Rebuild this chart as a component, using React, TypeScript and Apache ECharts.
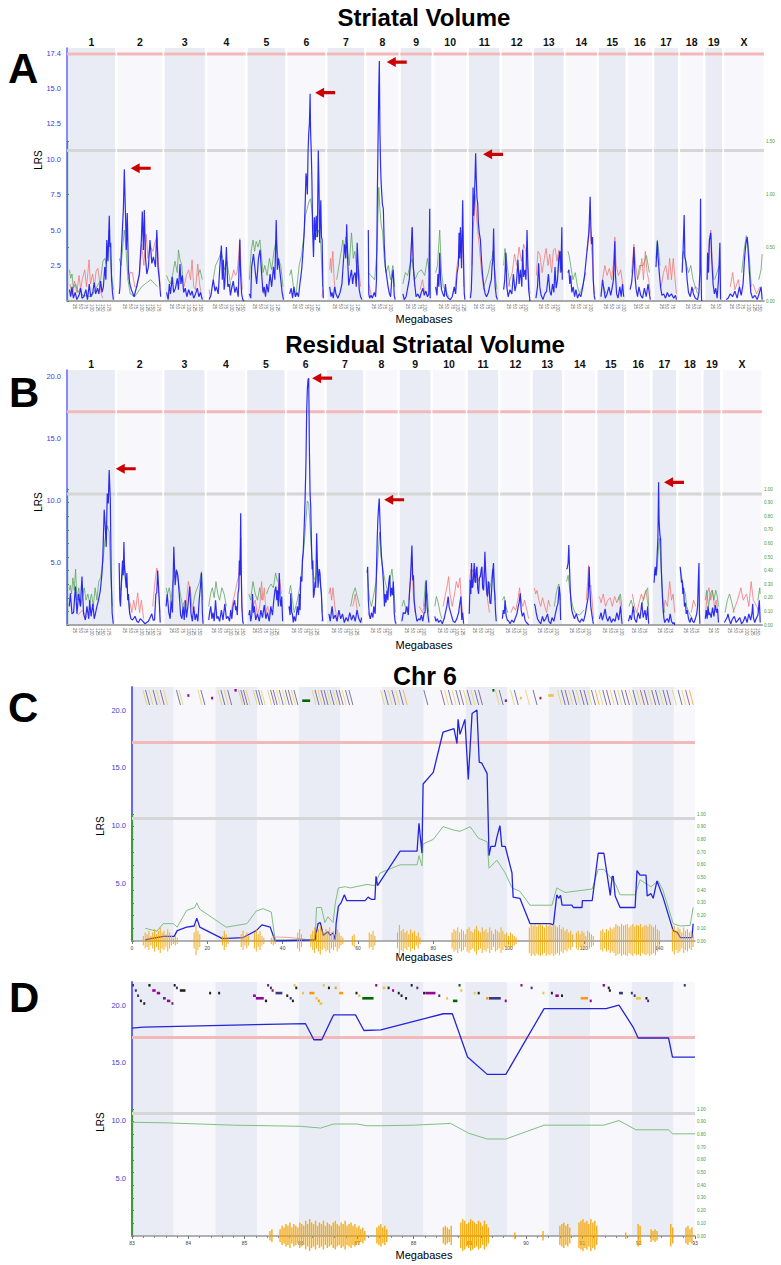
import React, { useEffect, useRef } from "react";
import * as echarts from "echarts";

// ---------------- DATA ----------------
const CHROMOSOMES = ["1","2","3","4","5","6","7","8","9","10","11","12","13","14","15","16","17","18","19","X"];
const CHR_LENGTH_MB = [198,185,166,155,154,153,150,128,124,132,123,119,119,123,106,93,93,88,62,160];
const TICK_STEP_MB = 25;

const A_SUGGESTIVE = 10.6;
const A_SIGNIFICANT = 17.4;
const B_SUGGESTIVE = 10.56;
const B_SIGNIFICANT = 17.2;
const CD_SUGGESTIVE = 10.6;
const CD_SIGNIFICANT = 17.2;

const A_Y_LABELS = [2.5, 5, 7.5, 10, 12.5, 15, 17.4];
const BCD_Y_LABELS = [5, 10, 15, 20];

// Panel A: Striatal Volume, per chromosome [Mb, LRS]
const A_LRS = [
  [[3,0.8],[8,0.3],[14,1.0],[20,0.2],[28,0.6],[35,0.1],[45,0.4],[52,0.9],[58,0.2],[66,0.3],[75,0.8],[82,0.1],[90,1.2],[96,0.3],[105,0.6],[112,1.3],[118,0.5],[126,0.9],[132,0.5],[140,1.4],[146,0.6],[152,1.0],[158,2.4],[163,1.5],[167,4.3],[172,2.8],[178,6.0],[181,3.8],[184,4.1],[188,1.5],[192,0.6],[196,0.1]],
  [[2,0.5],[5,1.0],[8,2.4],[14,4.5],[20,6.5],[24,9.27],[29,6.2],[33,3.6],[37,6.2],[42,2.2],[48,1.2],[55,0.8],[67,0.3],[78,1.0],[90,1.9],[99,4.3],[103,6.3],[108,3.6],[112,6.4],[117,3.1],[123,1.9],[130,2.4],[137,4.3],[145,2.65],[152,3.1],[161,2.4],[167,5.0],[172,2.4],[178,1.5],[184,0.3]],
  [[3,0.6],[10,0.1],[15,1.2],[20,0.5],[28,1.7],[34,0.6],[42,0.9],[50,1.6],[55,0.8],[62,2.6],[66,1.2],[72,1.8],[78,0.6],[85,0.9],[92,0.3],[100,0.8],[108,0.4],[115,0.7],[122,0.2],[130,0.5],[138,0.9],[145,0.3],[152,0.6],[160,0.1]],
  [[2,0.1],[10,0.4],[20,1.5],[28,0.7],[34,1.0],[42,0.5],[49,2.4],[56,3.9],[60,1.5],[64,2.9],[68,0.8],[71,1.2],[78,3.8],[84,1.0],[90,1.2],[96,0.4],[100,0.8],[108,1.4],[115,0.6],[122,1.0],[130,0.3],[137,4.3],[140,2.0],[145,0.5],[150,0.1],[155,0.0]],
  [[2,0.5],[8,0.2],[12,2.4],[20,3.3],[27,2.2],[34,1.2],[42,3.0],[49,3.6],[56,1.9],[62,0.6],[67,1.0],[73,0.3],[78,1.2],[85,0.6],[93,1.9],[100,1.0],[108,2.4],[114,1.5],[120,5.7],[125,2.2],[130,3.0],[134,2.4],[140,1.5],[146,0.6],[152,0.1]],
  [[3,0.5],[10,0.9],[16,0.2],[22,1.0],[28,0.3],[35,0.6],[42,0.3],[48,1.2],[53,1.8],[57,2.4],[62,3.5],[67,4.8],[72,7.2],[75,9.0],[78,8.6],[81,7.5],[84,10.5],[87,11.8],[90,12.5],[93,14.6],[95,12.0],[98,10.6],[101,8.5],[104,5.0],[108,3.1],[112,5.9],[116,4.3],[120,6.0],[125,4.5],[129,10.6],[132,8.3],[135,4.1],[140,7.1],[143,4.5],[146,4.3],[149,1.2],[151,0.2]],
  [[4,1.0],[10,0.3],[14,0.6],[20,0.2],[26,1.0],[32,0.5],[40,0.2],[50,0.6],[58,1.2],[64,2.7],[70,4.0],[75,3.0],[79,5.4],[83,2.9],[88,1.1],[93,1.6],[100,2.2],[105,1.2],[110,1.8],[116,2.0],[121,1.0],[125,4.1],[130,2.2],[134,0.8],[140,0.3],[146,0.1]],
  [[2,5.0],[4,0.5],[8,0.2],[14,0.4],[20,0.2],[28,0.6],[34,0.3],[38,1.5],[42,7.8],[45,11.5],[48,15.0],[50.5,16.9],[53,12.0],[56,9.5],[58,8.5],[61,7.6],[64,6.8],[68,6.5],[72,4.0],[77,2.4],[83,1.7],[89,1.0],[95,0.5],[100,0.3],[105,1.5],[111,2.2],[116,0.4],[120,0.1]],
  [[4,0.5],[10,0.1],[18,0.3],[25,0.9],[32,1.5],[39,3.1],[45,5.2],[50,2.4],[56,1.2],[62,0.3],[70,0.5],[78,0.2],[85,0.6],[92,0.9],[98,0.4],[105,0.7],[112,0.3],[118,0.5],[122,6.5],[124,0.2]],
  [[2,1.0],[8,0.4],[12,1.9],[16,1.0],[20,3.4],[24,1.5],[28,0.8],[34,0.5],[40,0.3],[45,1.2],[50,0.4],[58,0.2],[66,0.1],[75,0.3],[84,1.0],[90,0.5],[96,1.9],[102,2.5],[105,4.8],[108,3.0],[111,5.2],[116,2.3],[121,7.1],[124,3.6],[128,0.5],[131,0.1]],
  [[1,0.2],[5,0.8],[8,2.4],[10,4.5],[12.5,8.0],[15,6.0],[18,6.9],[21,8.5],[24,10.4],[27,8.5],[30,7.2],[33,6.9],[36,5.5],[40,4.8],[45,4.3],[50,2.8],[54,1.9],[60,1.0],[66,0.5],[72,0.3],[80,0.6],[88,1.2],[93,1.5],[96,2.4],[100,3.0],[103,5.1],[106,2.5],[110,1.0],[115,0.3],[120,0.1]],
  [[2,0.8],[7,1.5],[12,3.4],[16,1.0],[22,0.3],[30,0.8],[38,0.5],[45,1.9],[52,0.7],[58,1.2],[65,2.9],[70,1.2],[76,2.2],[82,1.0],[86,3.6],[90,1.7],[96,2.2],[100,1.5],[105,5.0],[108,2.9],[112,0.8],[118,0.0]],
  [[3,0.2],[10,1.0],[15,2.65],[20,1.0],[26,0.4],[34,0.1],[42,0.5],[50,0.7],[58,1.9],[64,0.7],[70,0.4],[76,1.2],[82,0.6],[87,2.4],[92,0.9],[98,1.5],[103,2.9],[108,3.5],[113,2.0],[117,5.2],[119,1.5]],
  [[3,2.0],[7,2.2],[11,1.2],[15,1.8],[20,0.6],[26,1.0],[32,0.3],[38,0.8],[45,0.2],[52,0.5],[60,0.3],[68,1.0],[76,1.8],[84,3.1],[90,4.0],[95,4.8],[100.5,7.35],[103,5.5],[107,4.0],[111,4.5],[114,1.5],[119,0.3],[122,0.1]],
  [[3,0.3],[10,1.5],[16,0.8],[22,0.2],[30,0.5],[38,1.0],[46,0.4],[52,0.9],[58,1.5],[64,4.2],[67,1.8],[72,0.5],[78,0.2],[86,1.0],[92,0.3],[98,1.2],[103,0.3]],
  [[3,0.8],[10,1.3],[16,2.4],[20,3.8],[24,1.9],[30,0.8],[36,0.3],[42,1.0],[50,0.4],[58,0.2],[66,0.9],[74,0.3],[82,1.2],[88,0.5],[92,0.1]],
  [[2,2.4],[5,3.3],[8,4.2],[11,3.1],[14,2.5],[18,1.7],[22,1.0],[28,0.4],[36,0.5],[44,0.2],[52,0.6],[60,0.3],[70,0.5],[80,0.2],[88,0.4],[92,0.1]],
  [[2,2.0],[6,3.5],[11,6.05],[14,3.1],[18,2.8],[24,1.5],[30,0.6],[38,0.3],[45,1.0],[52,0.5],[60,0.2],[70,0.1],[76,0.6],[80,2.0],[83,7.2],[85,2.5],[87,0.3],[88,0.0]],
  [[2,1.5],[4,3.4],[8,2.0],[12,4.3],[18,4.8],[22,3.0],[28,1.2],[34,0.5],[40,0.9],[46,0.2],[52,1.5],[58,4.1],[61,0.1]],
  [[2,0.1],[10,0.2],[20,0.5],[30,0.3],[40,0.7],[50,0.2],[60,1.0],[68,0.4],[76,1.2],[82,2.9],[88,4.0],[94,4.5],[98,3.6],[104,2.0],[110,0.6],[118,0.2],[128,0.4],[138,0.1],[148,0.6],[155,1.0],[160,0.1]],
];
const A_RED = [
  [[5,1.2],[15,0.4],[25,1.4],[35,0.6],[45,1.8],[52,0.8],[60,1.6],[70,2.2],[78,1.0],[89,2.9],[95,1.2],[105,1.9],[112,1.0],[120,2.1],[128,2.3],[135,1.4],[142,0.5],[150,0.2]],
  [[40,1.5],[50,2.0],[60,2.0],[70,1.0],[80,1.0],[92,2.0],[100,4.0],[110,2.5],[120,4.7],[128,3.0],[138,3.8],[150,3.5],[160,4.2],[168,4.5],[175,2.5],[182,1.0]],
  [[80,1.0],[90,1.8],[100,2.2],[108,1.5],[115,2.9],[122,1.0],[130,0.8],[140,2.6],[148,1.2],[155,0.5]],
  [[2,0.8],[8,0.2],[12,null],[100,1.5],[110,2.2],[118,1.8],[125,2.0],[132,3.2],[137,4.4],[142,2.5],[148,0.8]],
  [[58,1.0],[65,0.5],[72,0.8]],
  [[145,0.3],[150,0.8]],
  [[4,2.2],[8,3.0],[12,2.0],[18,3.5],[24,1.5],[30,0.5],[35,null],[120,1.2],[130,2.5],[140,1.0]],
  [[4,1.2],[10,0.8],[16,0.3]],
  [[38,3.0],[45,5.2],[50,2.5],[56,1.0],[62,null],[80,0.8],[90,1.5],[100,0.6]],
  [[80,0.5],[88,1.0],[96,2.5],[102,3.0],[108,4.0],[114,3.5],[120,5.0],[126,1.0]],
  [[8,2.5],[12,5.0],[18,6.0],[22,7.5],[26,6.5],[30,5.5],[36,4.5],[42,3.5],[50,2.0],[60,0.8]],
  [[20,1.0],[30,1.5],[40,2.0],[50,3.3],[60,2.5],[70,3.8],[80,2.8],[90,4.0],[100,3.5],[110,2.0],[118,0.5]],
  [[5,1.8],[12,3.5],[20,3.3],[30,2.0],[40,3.0],[48,3.7],[56,2.5],[64,3.3],[72,2.0],[80,3.6],[88,3.7],[96,2.8],[104,3.6],[110,2.0]],
  [[86,3.5],[92,4.5],[98,5.5],[102,4.5],[110,3.0],[118,0.5]],
  [[10,1.5],[20,2.5],[30,1.8],[40,2.3],[50,1.5],[60,3.0],[64,4.5],[70,2.5],[80,1.8],[90,2.2],[100,1.0]],
  [[10,2.0],[20,4.0],[28,2.5],[36,1.5],[45,2.0],[55,3.0],[62,1.5],[70,3.5],[78,2.0],[85,1.5],[92,0.5]],
  [[25,1.0],[35,2.0],[45,2.5],[55,1.5],[62,3.0],[70,1.5],[78,3.0],[86,1.5],[92,0.5]],
  [[40,0.5],[60,1.0],[75,0.8]],
  [[4,3.0],[10,4.0],[18,5.0],[24,3.0],[30,1.5]],
  [[20,1.0],[30,2.0],[40,0.8],[55,1.5],[65,0.5],[70,null],[120,1.2],[135,0.5],[150,1.0]],
];
const A_GREEN = [
  [[3,2.2],[8,1.6],[14,1.9],[20,0.9],[30,1.2],[40,0.6],[50,0.9],[60,0.4],[100,0.3],[140,1.5],[150,2.8],[158,3.0],[165,2.6],[172,3.5],[178,5.0],[182,3.2],[188,1.8],[196,0.8]],
  [[2,3.0],[10,2.5],[24,5.0],[30,4.0],[40,1.5],[50,0.5],[70,0.3],[100,1.0],[140,1.5],[170,1.0]],
  [[3,1.8],[10,1.5],[20,1.2],[30,1.9],[40,2.8],[50,2.0],[55,3.6],[62,2.9],[70,2.5],[75,1.3],[80,null],[140,1.8],[150,2.2],[160,1.5]],
  [[20,1.5],[30,2.5],[45,3.0],[55,3.5],[62,3.0],[70,2.2],[80,2.8],[90,1.8],[100,0.8]],
  [[2,1.5],[10,3.5],[18,4.3],[25,3.5],[32,4.2],[40,3.8],[48,4.3],[56,3.0],[62,2.0],[70,2.5],[80,1.8],[90,3.0],[100,2.2],[110,3.5],[120,4.3],[128,3.0],[140,2.5],[150,1.0]],
  [[3,1.8],[10,2.2],[20,1.0],[30,0.3],[45,2.5],[55,3.2],[65,4.5],[72,6.0],[80,6.5],[88,7.0],[95,7.2],[100,6.5],[110,5.0],[120,4.5],[130,5.0],[140,4.0],[148,1.0]],
  [[35,1.5],[45,2.5],[55,3.5],[62,4.3],[68,3.5],[75,4.5],[82,3.8],[90,2.5],[100,4.8],[108,3.0],[115,3.5],[122,2.5],[130,1.5]],
  [[2,2.0],[30,1.5],[40,3.5],[48,8.0],[53,6.5],[58,5.5],[65,4.8],[72,3.0],[80,2.0],[90,2.5],[100,1.5],[110,2.5],[118,1.0]],
  [[4,1.2],[15,2.0],[25,1.8],[35,2.5],[45,3.0],[55,1.5],[60,1.6],[70,2.0],[85,2.2],[100,1.8],[112,3.0],[120,2.0]],
  [[2,2.0],[10,2.5],[20,5.0],[28,2.0],[36,1.0],[45,0.8],[60,0.3]],
  [[60,1.0],[70,1.5],[80,2.0],[90,2.8],[96,3.0],[100,3.5],[106,2.5],[112,1.5],[118,0.8]],
  [[2,2.5],[8,3.7],[14,3.0],[22,2.0],[30,1.0]],
  [[100,2.0],[106,3.2],[112,3.5],[118,2.2]],
  [[3,3.5],[8,3.2],[15,2.5],[25,1.5],[35,2.0],[45,1.0],[55,0.5],[70,1.2],[80,2.0]],
  [[15,1.0],[25,0.5]],
  [[35,1.5],[45,2.5],[60,2.5],[75,3.2],[88,2.0]],
  [[2,3.0],[8,4.3],[14,3.5],[20,2.5]],
  [[2,3.0],[8,3.5],[15,3.0],[22,2.5],[30,2.0],[40,2.5],[50,1.5],[60,1.0],[70,0.5]],
  [[35,1.5],[45,2.0],[55,2.5]],
  [[70,2.0],[80,3.5],[90,4.6],[96,4.3],[104,3.0],[112,1.0],[120,null],[145,1.5],[155,2.2],[160,3.3]],
];

// Panel B: Residual Striatal Volume
const B_LRS = [
  [[2,1.5],[7,2.55],[14,0.9],[21,1.0],[29,3.1],[36,0.9],[43,2.5],[51,1.5],[58,3.9],[65,0.9],[73,0.4],[80,1.5],[88,0.5],[92,2.0],[98,0.7],[106,1.7],[112,0.5],[117,0.9],[124,1.5],[131,2.0],[139,2.8],[146,4.1],[150,5.5],[156,9.3],[161,7.9],[165,6.3],[169.5,10.6],[174,9.8],[178,12.5],[183,10.1],[187,4.0],[191,1.0],[196,0.1]],
  [[2,5.0],[5,2.0],[8,1.5],[12,3.5],[17,5.2],[20,4.0],[23,6.7],[26,4.5],[29,4.5],[33,3.0],[36,4.2],[40,2.0],[43,2.5],[48,1.0],[54,0.5],[61,0.4],[72,0.7],[80,0.3],[87,0.2],[95,0.5],[102,0.4],[116,0.1],[131,0.3],[146,0.9],[152,0.4],[158,0.4],[164,2.5],[168,2.6],[172,4.4],[176,3.0],[180,1.5],[183,0.2]],
  [[2,1.5],[7,2.5],[14,1.0],[20,0.5],[24,2.0],[30,1.0],[36,6.3],[42,3.2],[48,4.4],[54,4.0],[60,2.5],[66,0.8],[72,0.5],[77,1.5],[82,0.4],[87,2.0],[92,0.6],[98,1.5],[106,3.1],[112,0.9],[118,0.3],[124,1.5],[130,0.4],[136,0.9],[142,0.3],[148,2.0],[153,3.0],[158,4.2],[162,1.0],[165,0.1]],
  [[2,0.4],[6,1.0],[11,1.5],[16,0.5],[21,1.0],[26,0.3],[32,2.0],[38,0.5],[43,0.7],[50,0.3],[58,1.2],[65,0.4],[73,1.7],[80,0.5],[87,0.7],[94,0.3],[99,1.2],[104,0.5],[109,1.5],[116,2.0],[121,1.2],[124,1.5],[128,0.8],[131,2.5],[135,3.0],[137,5.2],[140,4.0],[143,9.0],[145,5.0],[148,1.5],[152,0.3],[155,0.1]],
  [[2,0.8],[6,1.2],[10,0.3],[15,0.8],[18,2.5],[22,1.0],[26,1.5],[32,0.4],[40,0.9],[48,0.3],[55,1.2],[62,0.6],[70,1.6],[77,0.5],[84,1.0],[92,0.3],[99,1.5],[106,0.8],[112,2.0],[117,2.8],[121,3.1],[125,2.0],[128,2.8],[132,1.5],[136,4.2],[140,2.0],[143,1.5],[147,2.3],[151,0.3]],
  [[3,1.5],[8,0.8],[11,2.55],[15,1.0],[18,0.9],[22,0.2],[26,0.7],[32,0.3],[40,1.5],[45,0.8],[49,2.5],[52,1.2],[55,3.9],[60,3.5],[62,5.2],[66,6.0],[70,7.9],[74,10.1],[78,13.3],[81,17.3],[84,19.0],[87,19.8],[90,19.9],[93,14.1],[96,10.6],[99,9.5],[102,6.6],[105,4.5],[108,5.2],[111,2.2],[114,2.5],[118,3.5],[121,3.0],[125,7.4],[128,5.2],[131,3.0],[134,3.9],[137,4.5],[140,4.1],[143,3.0],[146,2.5],[149,1.0],[152,0.3]],
  [[4,0.9],[10,0.3],[18,1.5],[24,0.5],[32,0.8],[40,0.3],[48,1.2],[56,0.5],[64,0.9],[72,0.2],[80,0.6],[88,0.3],[96,1.0],[104,0.4],[112,0.8],[120,0.3],[128,1.2],[136,0.5],[144,0.2],[148,0.6]],
  [[1,4.2],[3,4.7],[6,2.0],[10,0.8],[15,0.5],[20,1.0],[26,0.6],[30,1.5],[36,0.9],[40,3.0],[45,6.9],[48,8.5],[51,9.5],[54,10.2],[57,8.5],[60,6.9],[64,5.5],[68,4.7],[72,3.6],[77,1.5],[80,2.5],[84,1.8],[88,2.8],[92,2.0],[96,3.4],[100,4.0],[104,2.3],[108,3.0],[112,2.4],[116,3.5],[120,1.0],[124,0.3],[128,0.1]],
  [[4,0.3],[10,1.0],[18,0.9],[26,1.5],[32,0.8],[37,2.5],[43,4.2],[48,6.4],[52,3.6],[55,4.0],[58,2.0],[64,1.0],[70,0.3],[78,0.5],[84,0.4],[90,0.8],[96,0.3],[102,1.0],[106,1.0],[111,3.6],[115,1.5],[119,0.8],[123,0.2]],
  [[3,0.7],[8,0.3],[14,0.5],[20,0.2],[28,0.4],[36,0.1],[44,0.5],[50,1.0],[56,1.5],[62,2.3],[66,1.5],[70,1.2],[76,0.8],[84,0.3],[92,0.2],[100,0.5],[108,1.0],[114,1.8],[118,2.3],[122,0.4],[126,1.0],[130,0.1]],
  [[1,0.9],[5,3.6],[8,2.5],[11,5.0],[14,3.0],[17,3.1],[20,4.0],[23,5.0],[26,3.5],[29,3.4],[32,4.5],[35,4.7],[38,3.0],[42,2.5],[46,3.8],[50,3.9],[54,4.5],[57,4.7],[60,3.0],[64,2.8],[67,4.0],[70,5.9],[73,4.5],[76,3.6],[79,2.5],[82,2.3],[85,3.5],[88,3.4],[92,1.8],[96,1.7],[100,3.0],[104,4.2],[108,5.0],[111,3.0],[114,2.3],[117,1.0],[120,0.3]],
  [[2,0.5],[6,1.2],[10,0.9],[14,2.0],[18,0.8],[24,0.4],[30,0.3],[36,0.1],[44,0.4],[52,0.2],[60,0.6],[66,0.9],[72,1.5],[76,1.8],[81,2.55],[85,1.2],[90,0.7],[96,1.0],[102,0.4],[108,0.2],[114,0.1],[118,0.0]],
  [[2,1.7],[6,1.5],[10,1.0],[16,0.5],[22,0.3],[30,0.1],[38,0.7],[44,0.3],[52,0.5],[60,0.9],[66,0.3],[74,0.1],[80,0.6],[88,0.3],[96,1.0],[102,1.5],[106,1.7],[112,3.1],[115,2.5],[118,0.4]],
  [[3,4.5],[6,4.6],[10,5.0],[13,6.45],[16,4.7],[19,3.0],[22,2.0],[26,1.2],[32,0.8],[38,0.5],[46,0.9],[54,0.4],[62,0.2],[70,0.5],[78,0.3],[86,0.9],[92,1.6],[98,2.2],[103,4.7],[106,2.8],[110,1.5],[115,0.8],[120,0.2],[122,0.1]],
  [[3,0.5],[10,1.0],[16,0.4],[22,0.8],[28,1.3],[34,0.6],[40,0.3],[48,0.7],[56,0.2],[64,0.5],[72,0.3],[80,1.0],[88,0.4],[96,1.5],[100,0.6],[103,0.1]],
  [[3,0.3],[10,0.8],[16,0.4],[24,1.5],[30,0.5],[38,0.2],[46,1.0],[54,0.5],[62,1.8],[68,0.6],[76,1.2],[82,0.4],[88,1.5],[92,0.1]],
  [[1,3.4],[4,4.2],[6,4.7],[9,4.0],[12,4.5],[15,5.8],[18,7.0],[21,11.5],[23,8.5],[25,7.8],[27,7.2],[30,6.9],[33,4.5],[36,3.0],[40,1.5],[44,0.6],[48,0.2],[54,0.4],[60,0.5],[66,0.2],[72,0.9],[78,0.3],[84,0.1],[90,0.2],[92,0.0]],
  [[1,4.7],[4,4.2],[7,3.4],[10,3.6],[13,2.5],[16,3.0],[20,1.5],[24,1.8],[28,0.9],[32,1.2],[38,0.5],[44,0.2],[50,0.6],[56,0.3],[62,0.2],[68,0.5],[74,0.9],[78,1.5],[81,3.5],[84,5.0],[86,1.0],[88,0.1]],
  [[2,0.5],[6,1.2],[10,0.5],[14,1.5],[18,0.8],[22,1.0],[28,0.6],[34,1.4],[40,0.7],[46,1.6],[52,1.0],[56,1.3],[60,0.2]],
  [[2,0.2],[8,0.4],[14,0.6],[18,0.9],[24,0.4],[30,0.1],[38,0.5],[46,0.7],[54,0.2],[62,0.4],[70,0.6],[78,0.1],[86,0.3],[94,0.7],[102,0.2],[110,0.9],[118,0.4],[124,1.0],[127,1.7],[130,0.6],[136,0.2],[142,0.5],[150,0.8],[156,2.0],[158,1.2],[160,0.2]],
];
const B_RED = [
  [[40,0.8],[60,1.2],[80,0.6]],
  [[50,1.8],[58,1.0],[66,2.0],[74,1.2],[84,2.6],[92,1.0],[100,2.0],[110,0.5],[120,null],[150,1.5],[160,3.5],[168,4.6],[175,3.0],[182,1.0]],
  [[90,1.5],[100,3.5],[108,3.0],[116,1.5],[125,1.0]],
  [[100,1.0],[110,2.0],[120,2.8],[128,3.5],[135,4.0],[140,5.5],[143,7.0],[146,3.5],[150,1.0]],
  [[20,1.5],[30,2.0],[40,0.8],[50,1.5],[58,3.5],[64,2.0],[70,3.0],[78,1.0],[85,1.5],[95,0.8],[100,null],[130,2.5],[138,3.7],[145,2.5]],
  [[146,0.3],[150,0.5]],
  [[4,2.5],[10,3.0],[16,2.0],[22,3.0],[30,1.5],[40,0.5],[50,null],[110,1.5],[120,2.5],[130,1.0]],
  [[8,1.0],[14,0.5]],
  [[35,2.0],[42,3.5],[48,5.5],[54,2.5],[62,1.0],[70,null],[80,1.5],[95,1.0],[110,2.0],[118,2.5]],
  [[40,1.5],[50,2.5],[58,3.2],[64,3.9],[70,2.5],[80,1.5],[90,2.5],[98,3.5],[106,3.0],[114,3.8],[120,2.0],[126,1.0]],
  [[2,3.5],[8,4.5],[14,4.3],[20,4.5],[26,3.8],[32,4.5],[40,3.5],[48,4.0],[55,4.2],[62,3.5],[68,4.5],[75,3.0],[82,2.0],[90,1.0]],
  [[40,1.0],[50,1.5],[60,1.2],[70,2.0],[78,3.0],[84,2.0],[92,1.5],[100,2.0],[110,1.2],[118,0.5]],
  [[2,3.0],[8,2.5],[14,2.8],[22,2.0],[30,1.5],[38,2.2],[48,1.5],[56,1.0],[64,2.0],[72,1.5]],
  [[90,2.0],[96,3.5],[100,4.8],[104,3.0],[110,3.2],[116,2.0],[122,0.5]],
  [[3,2.3],[10,1.8],[20,2.5],[30,1.5],[40,2.0],[50,2.2],[60,1.5],[70,2.3],[80,1.8],[90,2.3],[100,1.0]],
  [[20,2.5],[30,1.5],[40,1.0],[50,1.8],[60,2.5],[70,2.0],[80,2.8],[90,1.5]],
  [[40,1.0],[50,2.0],[60,1.5],[70,3.5],[78,2.0],[85,2.5],[92,1.0]],
  [[50,1.0],[60,2.0],[70,1.5]],
  [[4,1.0],[10,2.5],[18,3.0],[26,2.0],[34,2.8],[42,1.5],[50,2.0],[58,1.0]],
  [[40,1.0],[60,2.0],[75,3.0],[85,2.0],[100,2.5],[110,1.5],[120,3.5],[130,2.0],[145,1.5],[155,1.0]],
];
const B_GREEN = [
  [[2,2.8],[6,3.2],[12,2.5],[18,3.8],[24,2.8],[30,4.5],[36,2.0],[44,3.0],[52,1.5],[60,2.2],[68,3.0],[76,2.0],[84,2.5],[92,1.8],[100,2.5],[108,1.5],[116,3.0],[124,2.0],[132,3.5],[140,3.8],[150,5.0],[160,7.0],[170,8.0],[178,7.5],[185,4.0],[192,1.5]],
  [[2,3.0],[10,2.8],[18,4.5],[26,4.8],[34,3.5],[42,2.0],[50,0.8]],
  [[2,3.0],[8,2.5],[16,3.0],[24,2.0],[32,3.5],[40,4.0],[48,4.5],[56,3.5],[65,2.5],[75,1.5],[85,2.0],[90,null],[120,1.5],[130,2.5],[140,3.0],[150,3.5],[158,4.3],[164,2.0]],
  [[2,1.5],[10,2.5],[18,3.0],[26,2.2],[34,3.5],[42,2.5],[50,2.0],[60,3.0],[70,2.5],[80,1.5]],
  [[2,2.5],[10,2.0],[20,3.5],[30,2.5],[40,2.0],[50,3.0],[60,2.0],[70,null],[80,2.5],[90,3.0],[100,3.3],[110,3.0],[120,4.2],[128,3.5]],
  [[3,2.5],[10,3.2],[18,2.0],[26,1.0],[40,2.0],[50,3.0],[60,4.5],[70,6.5],[78,8.5],[84,10.0],[90,9.8],[96,8.0],[102,6.0],[110,4.0],[120,3.5],[128,4.8],[136,3.8],[144,3.0],[150,1.0]],
  [[100,1.5],[110,2.5],[120,3.0],[130,2.2],[140,1.5]],
  [[1,4.5],[6,3.0],[12,2.0],[20,1.5],[30,2.5],[40,3.5],[50,6.0],[56,7.5],[62,5.5],[70,4.5],[80,3.5],[90,2.8],[100,3.5],[110,4.5],[118,3.0],[125,1.0]],
  [[4,1.5],[12,2.0],[25,1.0],[30,null],[100,1.5],[108,3.5],[115,2.5],[122,1.0]],
  [[3,1.5],[10,2.3],[18,1.8],[26,1.0],[34,0.5]],
  [[85,2.5],[92,3.0],[98,3.5],[104,4.5],[110,3.8],[116,2.0]],
  [[2,2.0],[10,2.3],[18,1.5],[26,1.0]],
  [[90,1.5],[98,2.5],[104,3.0],[110,3.3],[116,2.0]],
  [[3,3.5],[10,4.0],[20,2.5],[30,1.5],[40,1.0],[60,0.8],[80,1.2]],
  [[85,2.0],[95,2.5],[102,1.5]],
  [[5,1.5],[15,2.0],[30,1.0],[45,null],[60,1.5],[75,2.5],[88,3.0],[92,1.5]],
  [[1,4.0],[6,4.5],[12,4.0],[18,5.5],[24,7.0],[28,6.0],[34,4.0],[40,2.0],[48,1.0]],
  [[1,4.5],[6,4.0],[12,3.5],[18,2.8],[24,2.5],[30,1.5],[40,1.0],[55,0.5]],
  [[2,2.0],[8,2.8],[16,1.5],[24,2.5],[32,2.8],[40,2.0],[48,2.8],[55,2.3],[60,1.5]],
  [[5,1.0],[15,2.0],[25,2.5],[35,1.8],[45,1.0],[50,null],[150,2.0],[158,3.0],[160,2.5]],
];

// red arrows: [chromosome index, Mb, LRS] of the arrow tip
const A_ARROWS = [[1,52,9.35],[5,115,14.67],[7,83,16.83],[10,56.7,10.33]];
const B_ARROWS = [[0,207,12.6],[5,105,19.9],[7,75.6,10.1],[16,44.8,11.5]];

// Panel C: Chr 6, whole chromosome [Mb, LRS]
const C_RANGE_MB = [0, 149.5];
const C_X_INTERVAL = 20;
const C_LRS = [[3.5,0.1],[5,0.2],[8.3,0.4],[11.2,0.4],[12,0.9],[14.5,1.2],[16.5,1.3],[17.2,1.98],[18,1.2],[24,0.2],[29.5,0.3],[33,0.9],[34.5,1.4],[36.7,1.2],[38,0.0],[48.6,0.1],[49.4,1.5],[50,1.6],[50.8,0.5],[52,0.8],[52.6,0.5],[53.4,0.7],[54,0.1],[54.2,1.5],[54.8,3.0],[55.5,3.3],[56.4,4.0],[57,3.5],[61.9,3.5],[62.7,3.8],[63.6,3.6],[64.5,3.6],[64.8,5.6],[65.2,4.8],[71.2,7.78],[75.7,7.78],[76.2,10.2],[77,7.6],[77.3,13.6],[80,14.6],[82.6,18.1],[85.5,18.4],[86.3,17.1],[86.6,19.2],[87.1,17.9],[88.4,19.2],[89.3,14.0],[90.3,19.7],[91.6,20.0],[92.2,15.5],[92.9,15.4],[94.3,14.5],[94.8,7.4],[95.3,8.2],[96.4,8.2],[96.9,9.0],[97.7,10.0],[98.2,8.2],[99.1,8.2],[100.9,5.9],[101.2,3.8],[103,3.7],[105.7,1.5],[111,1.5],[111.9,1.4],[112.8,4.0],[113.3,3.7],[113.8,3.95],[114.2,3.1],[116.8,3.1],[117.2,2.9],[119.5,2.9],[119.6,3.5],[122.2,3.5],[123.8,7.6],[125.3,7.6],[127,3.95],[127.5,5.6],[127.8,5.6],[128.3,3.9],[129.6,2.9],[133.6,2.9],[134.1,6.1],[134.9,5.7],[136.5,5.7],[136.8,3.9],[137.8,4.1],[138.4,3.7],[139.4,5.2],[141,3.8],[143.7,0.9],[144.8,0.75],[145.6,0.3],[148.7,0.3],[149,1.5]];
const C_GREEN = [[3.5,1.1],[6.6,0.85],[8.3,1.5],[11,1.5],[12,1.2],[14.5,2.65],[16.7,2.9],[17.2,3.3],[18,2.75],[25,1.2],[30.5,1.5],[33,2.6],[34.8,2.8],[37,2.5],[38,0.1],[48.6,0.1],[49,2.9],[50.3,2.9],[51.2,1.6],[52,2.1],[53.4,1.6],[54,3.3],[54.8,4.6],[56.6,4.7],[58,4.6],[62.4,4.9],[64.5,4.8],[65,5.3],[65.9,5.9],[71.2,6.6],[75.7,6.6],[76.2,7.4],[77,6.5],[77.3,8.4],[80,8.8],[82.6,9.9],[85.5,9.6],[87.1,9.5],[89.8,9.9],[92,8.9],[94.3,8.6],[94.8,6.3],[96.9,7.0],[99.1,5.9],[100.9,4.6],[103,4.3],[105.7,3.1],[111.5,3.1],[112.8,4.6],[115,4.2],[122.2,4.5],[123.8,6.2],[125.3,6.2],[128.3,5.0],[129.6,4.0],[133.6,4.0],[134.9,5.3],[137.8,4.7],[139.7,5.2],[141,4.4],[143.7,1.5],[145.6,1.3],[148.2,1.35],[149,2.9]];
const C_RED = [[38,0.35],[42,0.3],[46,0.15]];
// gene glyph streaks [Mb, colour index]
const C_GENE_STREAKS = [[2.9,1],[3.6,2],[4.5,1],[5.6,2],[6.5,1],[7.5,0],[8.4,1],[11.8,2],[12.5,1],[17.5,1],[18.3,2],[22.8,1],[23.6,2],[24.5,1],[25.4,0],[28.3,1],[28.9,2],[29.6,0],[30.3,1],[32.2,1],[32.9,2],[33.6,2],[34.3,1],[36.0,1],[36.8,2],[37.5,0],[38.3,1],[39.1,2],[39.9,1],[40.7,2],[41.5,0],[42.3,1],[43.0,2],[47.8,1],[48.6,2],[49.4,1],[50.2,0],[51.0,2],[51.8,1],[52.6,2],[53.4,1],[54.2,2],[55.0,0],[55.8,1],[56.7,2],[57.6,2],[66.0,1],[67.0,2],[68.0,1],[69.0,0],[70.0,1],[71.0,2],[72.0,3],[77.5,2],[82.0,0],[83.0,1],[84.0,2],[85.0,1],[86.0,2],[87.0,0],[88.0,1],[89.0,2],[90.0,1],[91.0,2],[92.0,0],[96.5,1],[97.5,2],[100.5,1],[101.5,2],[104.5,1],[106.5,2],[113,1],[114,2],[115,0],[116,1],[117,2],[118,1],[119,0],[120,2],[121,1],[122,2],[123,3],[124,1],[125,2],[126,0],[127,1],[128,2],[129,1],[130,2],[131,0],[132,1],[133,2],[134,1],[135,6],[136,2],[137,1],[138,0],[139,2],[140,1],[141,2],[142,0],[143.5,1],[145,2],[146,1],[147,0],[148,3]];
// gene bars [startMb, endMb, row, colour index]
const C_GENE_BARS = [[14.7,15.2,2,5],[21.0,21.5,3,5],[27.2,27.8,0,5],[45.2,47.3,4,4],[95.7,96.2,0,4],[99,99.5,4,5],[103,103.4,3,1],[108.2,108.7,3,6],[110.5,112,2,1]];
const C_SNP_REGIONS = [
  [3.0,0.5,[0.3,0.5,0.4,0.6,0.3,0.5,0.7,0.4,0.6,0.8,0.5,0.6,0.4,0.7,0.5,0.3]],
  [11.0,0.5,[0.2,0.3,0.2]],
  [16.5,0.5,[0.5,0.95,0.6,0.4]],
  [24.0,0.5,[0.3,0.6,0.4,0.2]],
  [29.0,0.5,[0.4,0.6,0.3,0.5,0.3]],
  [32.5,0.5,[0.5,0.7,0.4,0.6,0.3,0.2]],
  [37.0,0.5,[0.2,0.3,0.2]],
  [44.0,0.5,[0.5,0.7,0.4]],
  [47.5,0.5,[0.4,0.6,0.8,0.5,0.7,0.9,0.6,0.5,0.7,0.6,0.8,0.5,0.6,0.4,0.7,0.5,0.3,0.2]],
  [58.5,0.5,[0.3,0.4]],
  [63.0,0.5,[0.5,0.4,0.6,0.3]],
  [70.5,0.5,[0.5,0.95,0.6,0.7,0.5,0.6,0.4,0.7,0.5,0.6,0.3,0.5,0.2]],
  [85.0,0.5,[0.5,0.7,0.6,0.8,0.5,0.7,0.6,0.4,0.7,0.8,0.6,0.5,0.7,0.9,0.6,0.5,0.8,0.6,0.7,0.5,0.8,0.6,0.4,0.7,0.6,0.5,0.8,0.6,0.4,0.5,0.3,0.5,0.4,0.3,0.2]],
  [105.5,0.5,[0.8,1.0,0.9,1.0,0.85,0.95,1.0,0.9,0.8,1.0,0.9,0.95,0.85,1.0,0.9,0.8,0.95,0.7,0.8,0.6,0.7,0.5,0.6,0.4]],
  [118.0,0.5,[0.5,0.6,0.4,0.6,0.5,0.3,0.6,0.5,0.4,0.3]],
  [124.5,0.5,[0.6,0.7,0.5,0.7,0.6,0.8,0.7]],
  [128.0,0.5,[0.8,1.0,0.9,0.85,1.0,0.9,0.95,1.0,0.8,0.9,1.0,0.85,0.95,0.9,1.0,0.8,0.9,0.95,0.85,1.0,0.9,0.8,0.95,0.7,0.6]],
  [143.5,0.5,[0.7,0.9,0.6,0.8,0.7,0.5,0.8,0.6,0.7,0.5,0.6,0.4]],
];

// Panel D: Chr 6, 83-93 Mb
const D_RANGE_MB = [83, 93];
const D_LRS = [[83.0,18.0],[83.2,18.1],[86.08,18.4],[86.23,17.0],[86.37,17.0],[86.58,19.15],[86.97,19.15],[87.12,17.8],[87.42,17.85],[88.53,19.25],[88.69,19.25],[88.96,15.5],[89.31,14.0],[89.64,14.0],[90.32,19.7],[91.42,19.7],[91.65,20.0],[91.9,18.1],[91.99,17.15],[92.53,17.15],[92.6,15.5],[93.0,15.5]];
const D_GREEN = [[83.0,9.85],[83.6,9.8],[84.8,9.6],[86.0,9.5],[86.35,9.35],[86.58,9.7],[87.0,9.7],[87.17,9.55],[87.42,9.55],[88.0,9.6],[88.66,9.75],[88.98,8.9],[89.31,8.4],[89.64,8.4],[90.32,9.6],[91.38,9.6],[91.65,10.0],[91.95,9.2],[92.53,9.2],[92.6,8.85],[93.0,8.85]];
const D_GENES = [[83.0,83.03,0,2],[83.05,83.08,2,2],[83.09,83.12,4,2],[83.14,83.17,6,7],[83.2,83.23,7,7],[83.29,83.33,0,7],[83.36,83.42,2,5],[83.44,83.5,3,5],[83.55,83.6,5,0],[83.62,83.68,6,5],[83.7,83.73,7,0],[83.74,83.77,0,7],[83.78,83.8,1,2],[83.85,83.95,2,7],[84.37,84.4,3,7],[84.53,84.56,3,7],[85.15,85.2,4,5],[85.2,85.34,5,5],[85.36,85.4,6,7],[85.4,85.43,0,2],[85.45,85.48,1,0],[85.48,85.5,2,0],[85.55,85.67,3,2],[85.74,85.77,4,7],[85.8,85.82,5,2],[85.84,85.86,6,7],[85.87,85.89,0,1],[85.9,85.92,1,7],[86.02,86.05,3,1],[86.15,86.24,3,3],[86.26,86.29,5,1],[86.3,86.33,6,3],[86.33,86.38,7,1],[86.39,86.41,0,1],[86.48,86.5,1,7],[86.6,86.62,1,3],[86.68,86.75,3,3],[86.97,87.0,3,7],[87.02,87.05,4,1],[87.09,87.29,5,4],[87.32,87.34,0,5],[87.45,87.5,1,1],[87.54,87.56,1,7],[87.62,87.65,2,5],[87.72,87.74,3,7],[87.77,87.79,4,7],[87.85,87.88,5,7],[87.95,87.97,0,7],[88.05,88.07,1,0],[88.17,88.19,3,7],[88.21,88.39,3,5],[88.44,88.46,4,0],[88.58,88.6,5,1],[88.7,88.78,6,4],[88.8,88.82,0,4],[88.83,88.85,2,1],[89.07,89.09,3,1],[89.14,89.16,3,7],[89.29,89.33,5,3],[89.34,89.55,5,2],[89.62,89.64,6,5],[89.9,89.93,0,5],[90.08,90.1,1,2],[90.29,90.31,3,1],[90.44,90.46,3,7],[90.52,90.58,4,5],[90.62,90.64,4,7],[90.97,91.1,5,3],[91.13,91.15,6,5],[91.36,91.4,0,5],[91.45,91.47,1,7],[91.47,91.49,2,7],[91.65,91.72,3,2],[91.86,91.88,3,2],[91.91,91.93,4,2],[91.95,92.04,5,1],[92.12,92.14,5,7],[92.15,92.17,6,2],[92.8,92.83,0,2]];
const D_SNP_REGIONS = [
  [85.45,0.035,[0.3,0.4]],
  [85.63,0.035,[0.4,0.6,0.5,0.7,0.6,0.8,0.5,0.7,0.6,0.5,0.8,0.7,0.6,0.9,0.7,1.0,0.8,0.7,0.9,0.6,0.8,0.7,0.9,0.6,0.8,0.7,0.6,0.8,0.9,0.7,0.6,0.8,0.7,0.9,0.6,0.7,0.8,0.6,0.7,0.5,0.6,0.4,0.5,0.3]],
  [87.35,0.035,[0.5,0.6,0.7,0.5,0.6,0.4]],
  [88.53,0.035,[0.5,0.6,0.5,0.4,0.6]],
  [88.84,0.035,[0.8,1.0,0.9,0.7,0.8,1.0,0.9,0.8,0.7,0.9,0.8,0.6,0.9,0.7,0.5]],
  [89.8,0.035,[0.2]],
  [90.3,0.035,[0.3]],
  [90.6,0.035,[0.6,0.7,0.8,0.6,0.7,0.5]],
  [90.94,0.035,[0.8,0.9,1.0,0.8,0.9,0.7,1.0,0.8,0.9,0.6]],
  [91.77,0.035,[0.2]],
  [91.99,0.035,[0.7,0.6]],
  [92.22,0.035,[0.4,0.3,0.4,0.3]],
  [92.57,0.035,[0.7,0.5]],
  [92.84,0.035,[0.5,0.6,0.4,0.5]],
];

// ---------------- STYLE / LAYOUT ----------------
const FONT = '"Liberation Sans", Arial, Helvetica, sans-serif';
const PAD_MB = 8;
const GAP_MB = 22;
const BAND_DARK = "#eaecf5";
const BAND_LIGHT = "#f7f7fc";
const BLUE = "#1717ee";
const RED = "#f07474";
const GREEN = "#4f9f4f";
const PINK = "#f3b9b9";
const GREY = "#d6d6d6";
const AXIS_BLUE = "#6464ff";
const LABEL_BLUE = "#4040d4";
const AXIS_GREEN = "#3c9c3c";
const GENE_COLORS = ["#6a2a6a", "#e8c840", "#3a3a80", "#ff9900", "#006600", "#990099", "#993333", "#222222"];
const C_BAND_MB = 11.07;
const D_BAND_MB = 0.74;
const Y_MAX_A = 17.82;
const Y_MAX_B = 20.56;
const Y_MAX_CD = 22.0;

function buildOption() {
  const offsets: number[] = [];
  let acc = PAD_MB;
  CHR_LENGTH_MB.forEach((len) => { offsets.push(acc); acc += len + GAP_MB; });
  const genomeMax = offsets[19] + CHR_LENGTH_MB[19] + PAD_MB;

  const genomeLine = (perChr: any[][]) => {
    const out: any[] = [];
    perChr.forEach((pts, i) => {
      pts.forEach((p: any) => out.push([offsets[i] + p[0], p[1]]));
      out.push([offsets[i] + CHR_LENGTH_MB[i] + PAD_MB, null]);
    });
    return out;
  };
  const genomeThreshold = (v: number) => {
    const out: any[] = [];
    CHR_LENGTH_MB.forEach((len, i) => {
      out.push([offsets[i] - PAD_MB + 0.5, v], [offsets[i] + len + PAD_MB - 0.5, v], [offsets[i] + len + PAD_MB, null]);
    });
    return out;
  };
  const genomeBands = CHR_LENGTH_MB.map((len, i) => [offsets[i] - PAD_MB, offsets[i] + len + PAD_MB, i % 2]);
  const regionBands = (min: number, max: number, w: number) => {
    const out: number[][] = [];
    let k = 0;
    for (let s = min; s < max - 1e-9; s += w, k++) out.push([s, Math.min(s + w, max), k % 2]);
    return out;
  };

  const bandSeries = (g: number, data: number[][], yMax: number, gapPx: number) => ({
    type: "custom", xAxisIndex: g, yAxisIndex: g, silent: true, z: 0, clip: true, data,
    renderItem: (params: any, api: any) => {
      const a = api.coord([api.value(0), yMax]);
      const b = api.coord([api.value(1), 0]);
      return { type: "rect", shape: { x: a[0] + gapPx / 2, y: a[1], width: b[0] - a[0] - gapPx, height: b[1] - a[1] }, style: { fill: api.value(2) ? BAND_LIGHT : BAND_DARK } };
    },
  });
  const lineSeries = (g: number, data: any[], color: string, width: number, z: number, opacity = 1) => ({
    type: "line", xAxisIndex: g, yAxisIndex: g, data, showSymbol: false, symbol: "none", silent: true, z,
    connectNulls: false, lineStyle: { color, width, opacity }, emphasis: { disabled: true },
  });
  const arrowSeries = (g: number, arrows: number[][]) => ({
    type: "custom", xAxisIndex: g, yAxisIndex: g, silent: true, z: 10, clip: false,
    data: arrows.map(([c, mb, v]) => [offsets[c] + mb, v]),
    renderItem: (params: any, api: any) => {
      const p = api.coord([api.value(0), api.value(1)]);
      const x = p[0], y = p[1];
      return { type: "polygon", shape: { points: [[x, y], [x + 9, y - 5], [x + 9, y - 1.6], [x + 20, y - 1.6], [x + 20, y + 1.6], [x + 9, y + 1.6], [x + 9, y + 5]] }, style: { fill: "#cc0000" } };
    },
  });
  const chrLabelSeries = (g: number, yMax: number) => ({
    type: "custom", xAxisIndex: g, yAxisIndex: g, silent: true, z: 10, clip: false,
    data: CHR_LENGTH_MB.map((len, i) => [offsets[i] + len / 2, yMax]),
    renderItem: (params: any, api: any) => {
      const p = api.coord([api.value(0), api.value(1)]);
      return { type: "text", x: p[0], y: p[1] - 6, style: { text: CHROMOSOMES[params.dataIndex], fontSize: 10.5, fontWeight: "bold", fontFamily: FONT, fill: "#111", align: "center", verticalAlign: "middle" } };
    },
  });
  const tickLabels: string[] = [];
  const tickData: number[][] = [];
  CHR_LENGTH_MB.forEach((len, i) => {
    for (let mb = TICK_STEP_MB; mb < len - 4; mb += TICK_STEP_MB) { tickData.push([offsets[i] + mb, 0]); tickLabels.push(String(mb)); }
  });
  const tickLabelSeries = (g: number) => ({
    type: "custom", xAxisIndex: g, yAxisIndex: g, silent: true, z: 10, clip: false, data: tickData,
    renderItem: (params: any, api: any) => {
      const p = api.coord([api.value(0), 0]);
      return { type: "text", x: p[0], y: p[1] + 3, rotation: -Math.PI / 2, style: { text: tickLabels[params.dataIndex], fontSize: 4.5, fontFamily: FONT, fill: "#555", align: "left", verticalAlign: "middle" } };
    },
  });
  const snpSeries = (g: number, regions: any[], width: number) => {
    const data: number[][] = [];
    regions.forEach(([start, step, amps]: any) => amps.forEach((a: number, k: number) => data.push([start + k * step, a])));
    return {
      type: "custom", xAxisIndex: g, yAxisIndex: g, silent: true, z: 6, clip: false, data,
      renderItem: (params: any, api: any) => {
        const p = api.coord([api.value(0), 0]);
        const a = api.value(1);
        return { type: "line", shape: { x1: p[0], y1: p[1] - a * 17, x2: p[0], y2: p[1] + a * 15 }, style: { stroke: "#f4a400", lineWidth: width, opacity: 0.9 } };
      },
    };
  };
  const geneBarSeries = (g: number, data: number[][]) => ({
    type: "custom", xAxisIndex: g, yAxisIndex: g, silent: true, z: 5, clip: false, data,
    renderItem: (params: any, api: any) => {
      const a = api.coord([api.value(0), Y_MAX_CD]);
      const b = api.coord([api.value(1), Y_MAX_CD]);
      const row = api.value(2);
      return { type: "rect", shape: { x: a[0], y: a[1] + 2 + row * 2.6, width: Math.max(2, b[0] - a[0]), height: 2.6 }, style: { fill: GENE_COLORS[api.value(3)] } };
    },
  });
  const streakSeries = (g: number, data: number[][]) => ({
    type: "custom", xAxisIndex: g, yAxisIndex: g, silent: true, z: 5, clip: false, data,
    renderItem: (params: any, api: any) => {
      const p = api.coord([api.value(0), Y_MAX_CD]);
      return { type: "line", shape: { x1: p[0], y1: p[1] + 3, x2: p[0] + 4, y2: p[1] + 18 }, style: { stroke: GENE_COLORS[api.value(1)], lineWidth: 0.8, opacity: 0.85 } };
    },
  });

  const grids = [
    { left: 67, right: 17, top: 48, bottom: 964 },   // 0 A
    { left: 67, right: 17, top: 141, bottom: 964 },  // 1 A right
    { left: 67, right: 19, top: 370, bottom: 640 },  // 2 B
    { left: 67, right: 19, top: 489, bottom: 640 },  // 3 B right
    { left: 132, right: 86, top: 687, bottom: 324 }, // 4 C
    { left: 132, right: 86, top: 814, bottom: 324 }, // 5 C right
    { left: 132, right: 86, top: 982, bottom: 29 },  // 6 D
    { left: 132, right: 86, top: 1109, bottom: 29 }, // 7 D right
  ];

  const leftY = (g: number, max: number, labels: number[], width: number) => ({
    gridIndex: g, type: "value", min: 0, max,
    axisLine: { show: true, lineStyle: { color: AXIS_BLUE, width } },
    axisTick: { show: false }, splitLine: { show: false },
    axisLabel: { customValues: labels, formatter: (v: number) => v.toFixed(1), fontSize: 7.5, color: LABEL_BLUE, fontFamily: FONT, margin: 6 },
  });
  const rightY = (g: number, max: number, interval: number) => ({
    gridIndex: g, type: "value", position: "right", min: 0, max, interval,
    axisLine: { show: true, lineStyle: { color: AXIS_GREEN, width: 1.3 } },
    axisTick: { show: true, length: 2, lineStyle: { color: AXIS_GREEN } }, splitLine: { show: false },
    axisLabel: { formatter: (v: number) => v.toFixed(2), fontSize: 4.5, color: AXIS_GREEN, fontFamily: FONT, margin: 2 },
  });
  const hiddenX = (g: number) => ({ gridIndex: g, type: "value", min: 0, max: 1, show: false });
  const genomeX = (g: number) => ({
    gridIndex: g, type: "value", min: 0, max: genomeMax,
    axisLine: { show: true, onZero: false, lineStyle: { color: "#a8a8a8", width: 2 } },
    axisTick: { show: false }, axisLabel: { show: false }, splitLine: { show: false },
  });

  const xAxis = [
    genomeX(0), hiddenX(1), genomeX(2), hiddenX(3),
    {
      gridIndex: 4, type: "value", min: C_RANGE_MB[0], max: C_RANGE_MB[1], interval: C_X_INTERVAL,
      axisLine: { show: true, onZero: false, lineStyle: { color: "#999", width: 1.5 } },
      axisTick: { show: true, length: 3, lineStyle: { color: "#777" } },
      axisLabel: { fontSize: 5, color: "#444", fontFamily: FONT, margin: 4, showMaxLabel: false },
      splitLine: { show: false },
    },
    hiddenX(5),
    {
      gridIndex: 6, type: "value", min: D_RANGE_MB[0], max: D_RANGE_MB[1], interval: 1,
      axisLine: { show: true, onZero: false, lineStyle: { color: "#999", width: 1.5 } },
      axisTick: { show: true, length: 3, lineStyle: { color: "#777" } },
      minorTick: { show: true, splitNumber: 5, length: 2, lineStyle: { color: "#888" } },
      axisLabel: { fontSize: 5, color: "#444", fontFamily: FONT, margin: 4 },
      splitLine: { show: false },
    },
    hiddenX(7),
  ];
  const yAxis = [
    leftY(0, Y_MAX_A, A_Y_LABELS, 1.5), rightY(1, 1.5, 0.5),
    leftY(2, Y_MAX_B, BCD_Y_LABELS, 1.5), rightY(3, 1.0, 0.1),
    leftY(4, Y_MAX_CD, BCD_Y_LABELS, 2), rightY(5, 1.0, 0.1),
    leftY(6, Y_MAX_CD, BCD_Y_LABELS, 2), rightY(7, 1.0, 0.1),
  ];

  const cD = (arr: number[][]) => arr.map((p) => [p[0], p[1]]);

  const series: any[] = [
    // Panel A
    bandSeries(0, genomeBands, Y_MAX_A, 1.2),
    lineSeries(0, genomeThreshold(A_SIGNIFICANT), PINK, 3, 1),
    lineSeries(0, genomeThreshold(A_SUGGESTIVE), GREY, 3, 1),
    lineSeries(0, genomeLine(A_RED), RED, 0.9, 2, 0.85),
    lineSeries(0, genomeLine(A_GREEN), GREEN, 0.9, 2, 0.8),
    lineSeries(0, genomeLine(A_LRS), BLUE, 1.2, 3, 0.9),
    arrowSeries(0, A_ARROWS),
    chrLabelSeries(0, Y_MAX_A),
    tickLabelSeries(0),
    // Panel B
    bandSeries(2, genomeBands, Y_MAX_B, 1.2),
    lineSeries(2, genomeThreshold(B_SIGNIFICANT), PINK, 3, 1),
    lineSeries(2, genomeThreshold(B_SUGGESTIVE), GREY, 3, 1),
    lineSeries(2, genomeLine(B_RED), RED, 0.9, 2, 0.85),
    lineSeries(2, genomeLine(B_GREEN), GREEN, 0.9, 2, 0.8),
    lineSeries(2, genomeLine(B_LRS), BLUE, 1.2, 3, 0.9),
    arrowSeries(2, B_ARROWS),
    chrLabelSeries(2, Y_MAX_B),
    tickLabelSeries(2),
    // Panel C
    bandSeries(4, regionBands(C_RANGE_MB[0], C_RANGE_MB[1], C_BAND_MB), Y_MAX_CD, 0),
    lineSeries(4, [[C_RANGE_MB[0], CD_SIGNIFICANT], [C_RANGE_MB[1], CD_SIGNIFICANT]], PINK, 3, 1),
    lineSeries(4, [[C_RANGE_MB[0], CD_SUGGESTIVE], [C_RANGE_MB[1], CD_SUGGESTIVE]], GREY, 3, 1),
    lineSeries(4, cD(C_RED), RED, 0.9, 2, 0.7),
    lineSeries(4, cD(C_GREEN), "#7fbf7f", 1, 2),
    lineSeries(4, cD(C_LRS), "#2424d8", 1.3, 3),
    streakSeries(4, C_GENE_STREAKS),
    geneBarSeries(4, C_GENE_BARS),
    snpSeries(4, C_SNP_REGIONS, 1.0),
    // Panel D
    bandSeries(6, regionBands(D_RANGE_MB[0], D_RANGE_MB[1], D_BAND_MB), Y_MAX_CD, 0),
    lineSeries(6, [[D_RANGE_MB[0], CD_SIGNIFICANT], [D_RANGE_MB[1], CD_SIGNIFICANT]], PINK, 3, 1),
    lineSeries(6, [[D_RANGE_MB[0], CD_SUGGESTIVE], [D_RANGE_MB[1], CD_SUGGESTIVE]], GREY, 3, 1),
    lineSeries(6, cD(D_GREEN), "#7fbf7f", 1, 2),
    lineSeries(6, cD(D_LRS), "#2424d8", 1.3, 3),
    geneBarSeries(6, D_GENES),
    snpSeries(6, D_SNP_REGIONS, 1.4),
  ];

  const txt = (text: string, x: number, y: number, fontSize: number, bold: boolean, align = "center", rotation = 0) => ({
    type: "text", x, y, rotation, silent: true, z: 20,
    style: { text, fontSize, fontWeight: bold ? "bold" : "normal", fontFamily: FONT, fill: "#000", align, verticalAlign: "middle" },
  });

  const graphic = [
    txt("Striatal Volume", 424, 17, 24, true),
    txt("Residual Striatal Volume", 425, 344, 24, true),
    txt("Chr 6", 425, 676, 25, true),
    txt("A", 8, 68, 42, true, "left"),
    txt("B", 9, 392, 42, true, "left"),
    txt("C", 8, 707, 42, true, "left"),
    txt("D", 9, 997, 42, true, "left"),
    txt("Megabases", 424, 319, 11, false),
    txt("Megabases", 424, 645, 11, false),
    txt("Megabases", 424, 957, 11, false),
    txt("Megabases", 424, 1255, 11, false),
    txt("LRS", 38, 160, 10, false, "center", Math.PI / 2),
    txt("LRS", 38, 502, 10, false, "center", Math.PI / 2),
    txt("LRS", 100, 826, 10, false, "center", Math.PI / 2),
    txt("LRS", 100, 1122, 10, false, "center", Math.PI / 2),
  ];

  return {
    animation: false,
    backgroundColor: "#ffffff",
    textStyle: { fontFamily: FONT },
    grid: grids,
    xAxis,
    yAxis,
    series,
    graphic,
  };
}

export default function App() {
  const ref = useRef<HTMLDivElement>(null);
  useEffect(() => {
    if (!ref.current) return;
    const chart = echarts.init(ref.current, null, { renderer: "svg" });
    chart.setOption(buildOption() as any);
    return () => chart.dispose();
  }, []);
  return <div ref={ref} style={{ position: "absolute", left: 0, top: 0, width: 781, height: 1265, background: "#fff" }} />;
}
